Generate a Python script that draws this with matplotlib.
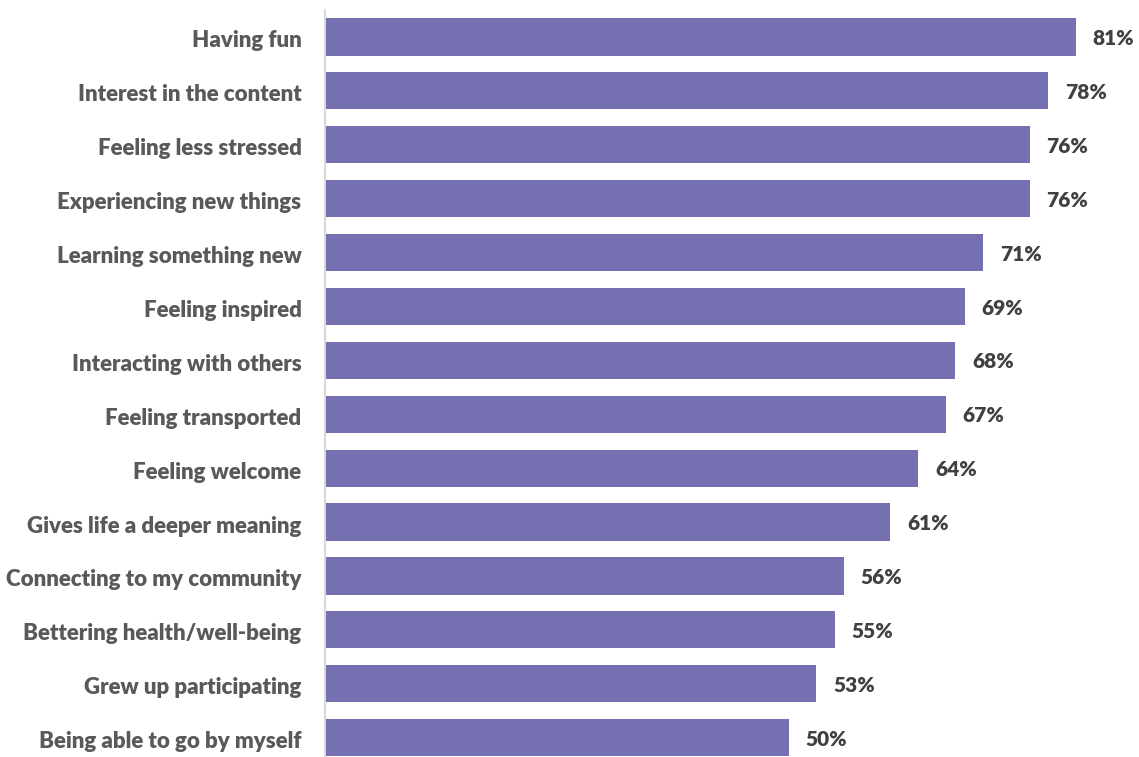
import matplotlib
matplotlib.use("Agg")
import matplotlib.pyplot as plt
import matplotlib.transforms as mtransforms

labels = ['Having fun', 'Interest in the content', 'Feeling less stressed',
          'Experiencing new things', 'Learning something new', 'Feeling inspired',
          'Interacting with others', 'Feeling transported', 'Feeling welcome',
          'Gives life a deeper meaning', 'Connecting to my community',
          'Bettering health/well-being', 'Grew up participating',
          'Being able to go by myself']
values = [81, 78, 76, 76, 71, 69, 68, 67, 64, 61, 56, 55, 53, 50]

plt.rcParams['font.family'] = ['Lato', 'DejaVu Sans']

fig = plt.figure(figsize=(11.39, 7.57), dpi=100)
# axes placed in pixels: x=0 at 325px, top edge at 10px
W, H = 1139, 757
ppu = 53.9  # pixels per bar slot
left, top = 325, 10
ax_h = 14 * ppu
ax_w = 87 * 9.27
ax = fig.add_axes([left / W, (H - top - ax_h) / H, ax_w / W, ax_h / H])

y = range(len(values))
ax.barh(y, values, height=0.69, color='#7470b2', edgecolor='none')
ax.set_ylim(13.5, -0.5)
ax.set_xlim(0, 87)

for i, v in enumerate(values):
    ax.text(v + 1.8, i + 0.03, f'{v}%', va='center', ha='left', fontsize=15,
            fontweight='heavy', color='#404040')

ax.set_yticks(list(y))
ax.set_yticklabels(labels, fontsize=16, fontweight='heavy', color='#595959')
ax.tick_params(axis='y', length=0, pad=17)
# nudge category labels down a little
shift = mtransforms.ScaledTranslation(0, -2 / 100, fig.dpi_scale_trans)
for t in ax.get_yticklabels():
    t.set_transform(t.get_transform() + shift)
ax.set_xticks([])
for s in ['top', 'right', 'bottom']:
    ax.spines[s].set_visible(False)
ax.spines['left'].set_color('#d9d9d9')
ax.spines['left'].set_linewidth(1.5)

fig.savefig('out.png', dpi=100)
